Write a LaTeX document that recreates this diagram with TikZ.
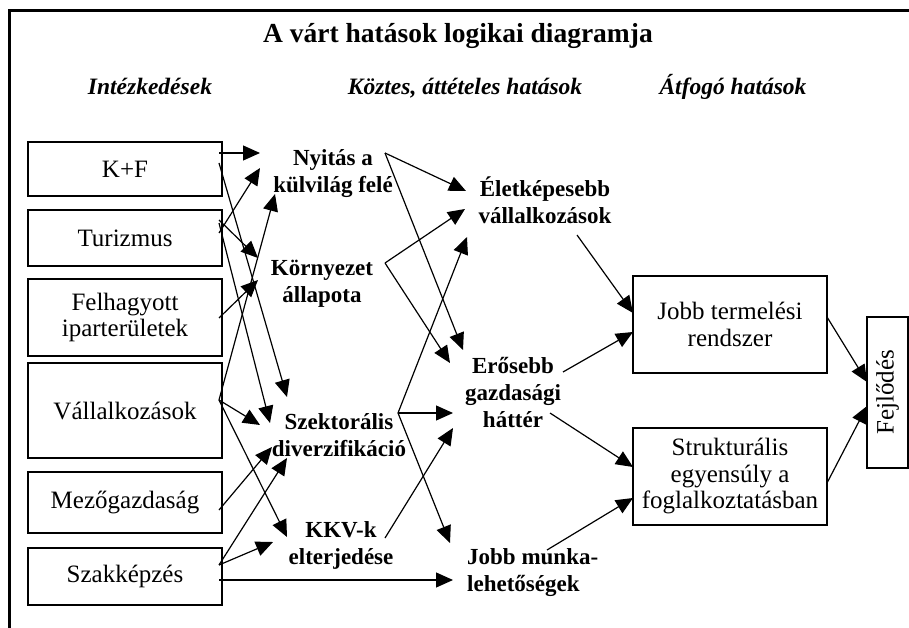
\documentclass[tikz,border=0pt]{standalone}
\usepackage{fontspec}
\setmainfont{Liberation Serif}
\usetikzlibrary{arrows.meta}
\begin{document}
\begin{tikzpicture}[x=1pt,y=-1pt,
  box/.style={draw, line width=1.1pt, minimum width=194pt, align=center, inner sep=0pt, font=\fontsize{25}{26}\selectfont},
  rbox/.style={draw, line width=1.1pt, minimum width=194pt, minimum height=97pt, align=center, inner sep=0pt, font=\fontsize{25}{26.5}\selectfont},
  mid/.style={align=center, inner sep=0pt, font=\fontsize{23}{27}\selectfont\bfseries},
  head/.style={font=\fontsize{23.5}{27}\selectfont\bfseries\itshape, anchor=base, inner sep=0pt},
  arr/.style={line width=1.2pt, -{Triangle[length=17pt,width=15pt]}},
]
\useasboundingbox (0,0) rectangle (909,628);
% frame
\draw[line width=3pt] (9.5,628) -- (9.5,11) -- (909,11);

% title and headings
\node[anchor=base, inner sep=0pt, font=\fontsize{27.5}{30}\selectfont\bfseries] (title) at (458,43) {A várt hatások logikai diagramja};
\node[head] (h1) at (150,95) {Intézkedések};
\node[head] (h2) at (465,95) {Köztes, áttételes hatások};
\node[head] (h3) at (733,95) {Átfogó hatások};

% left boxes
\node[box, minimum height=54pt] (kf) at (125,169) {K+F};
\node[box, minimum height=56pt] (tur) at (125,238) {Turizmus};
\node[box, minimum height=77pt] (fel) at (125,317.5) {Felhagyott\\iparterületek};
\node[box, minimum height=95pt] (val) at (125,410.5) {Vállalkozások};
\node[box, minimum height=61pt] (mez) at (125,502.5) {Mezőgazdaság};
\node[box, minimum height=57pt] (szak) at (125,576.5) {Szakképzés};

% middle texts
\node[mid] (nyit) at (333,174) {Nyitás a\\külvilág felé};
\node[mid] (korny) at (322,284) {Környezet\\állapota};
\node[mid] (szekt) at (339,435) {Szektorális\\diverzifikáció};
\node[mid] (kkv) at (341,545) {KKV-k\\elterjedése};
\node[mid] (elet) at (545,200) {Életképesebb\\vállalkozások};
\node[mid] (eros) at (513,393) {Erősebb\\gazdasági\\háttér};
\node[mid, align=left, anchor=west] (munka) at (467,573) {Jobb munka-\\lehetőségek};

% right boxes
\node[rbox] (term) at (730,324.5) {Jobb termelési\\rendszer};
\node[rbox] (strukt) at (730,476.5) {Strukturális\\egyensúly a\\foglalkoztatásban};
\node[draw, line width=1.1pt, rotate=90, minimum width=151pt, minimum height=41pt, inner sep=0pt, font=\fontsize{25}{26}\selectfont] (fejl) at (887.5,392.5) {Fejlődés};

% ports
\coordinate (kfA) at (219,153);
\coordinate (kfB) at (219,163);
\coordinate (turA) at (219,233);
\coordinate (turB) at (219,220);
\coordinate (turC) at (219,223);
\coordinate (felA) at (219,318);
\coordinate (valA) at (219,400);
\coordinate (mezA) at (219,510);
\coordinate (szakA) at (219,565);
\coordinate (szakB) at (219,580);

\coordinate (nyitIn1) at (260,153);
\coordinate (nyitIn2) at (260,168);
\coordinate (nyitIn3) at (275,194);
\coordinate (kornyIn1) at (258,258);
\coordinate (kornyIn2) at (258,280);
\coordinate (szektIn1) at (287,397);
\coordinate (szektIn2) at (270,423);
\coordinate (szektIn3) at (260,425);
\coordinate (szektIn4) at (272,447);
\coordinate (szektIn5) at (287,458);
\coordinate (kkvIn1) at (287,537);
\coordinate (kkvIn2) at (273,542);

\coordinate (nyitOut) at (385,153);
\coordinate (kornyOut) at (385,263);
\coordinate (szektOut) at (398,413);
\coordinate (kkvOut) at (385,538);

\coordinate (eletIn1) at (466,191);
\coordinate (eletIn2) at (465,209);
\coordinate (eletIn3) at (467,237);
\coordinate (erosIn1) at (463,350);
\coordinate (erosIn2) at (450,363);
\coordinate (erosIn3) at (453,413);
\coordinate (erosIn4) at (453,428);
\coordinate (munkaIn1) at (450,543);
\coordinate (munkaIn2) at (453,580);

\coordinate (eletOut) at (577,235);
\coordinate (erosOut1) at (563,372);
\coordinate (erosOut2) at (550,413);
\coordinate (munkaOut) at (547,550);

\coordinate (termIn1) at (633,313);
\coordinate (termIn2) at (633,332);
\coordinate (struktIn1) at (633,467);
\coordinate (struktIn2) at (633,498);
\coordinate (termOut) at (827,317);
\coordinate (struktOut) at (827,483);
\coordinate (fejlIn1) at (867,382);
\coordinate (fejlIn2) at (867,406);

% arrows: measures -> intermediate
\draw[arr] (kfA) -- (nyitIn1);
\draw[arr] (kfB) -- (szektIn1);
\draw[arr] (turA) -- (nyitIn2);
\draw[arr] (turB) -- (kornyIn1);
\draw[arr] (turC) -- (szektIn2);
\draw[arr] (felA) -- (kornyIn2);
\draw[arr] (valA) -- (nyitIn3);
\draw[arr] (valA) -- (szektIn3);
\draw[arr] (valA) -- (kkvIn1);
\draw[arr] (mezA) -- (szektIn4);
\draw[arr] (szakA) -- (szektIn5);
\draw[arr] (szakA) -- (kkvIn2);
\draw[arr] (szakB) -- (munkaIn2);

% intermediate -> intermediate
\draw[arr] (nyitOut) -- (eletIn1);
\draw[arr] (nyitOut) -- (erosIn1);
\draw[arr] (kornyOut) -- (eletIn2);
\draw[arr] (kornyOut) -- (erosIn2);
\draw[arr] (szektOut) -- (eletIn3);
\draw[arr] (szektOut) -- (erosIn3);
\draw[arr] (szektOut) -- (munkaIn1);
\draw[arr] (kkvOut) -- (erosIn4);

% intermediate -> overall
\draw[arr] (eletOut) -- (termIn1);
\draw[arr] (erosOut1) -- (termIn2);
\draw[arr] (erosOut2) -- (struktIn1);
\draw[arr] (munkaOut) -- (struktIn2);
\draw[arr] (termOut) -- (fejlIn1);
\draw[arr] (struktOut) -- (fejlIn2);
\end{tikzpicture}
\end{document}
